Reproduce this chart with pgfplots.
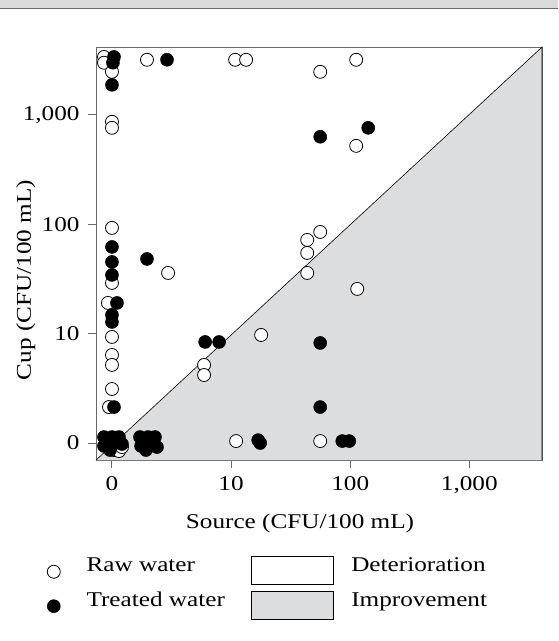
\documentclass[border=0pt]{standalone}
\usepackage{fontspec}
\setmainfont{Liberation Serif}[FakeStretch=1.2]
\usepackage{pgfplots}
\pgfplotsset{compat=1.18}
\definecolor{impgray}{RGB}{220,221,223}
\definecolor{hdrgray}{RGB}{218,219,221}
\definecolor{axgray}{RGB}{105,105,105}
\begin{document}
\begin{tikzpicture}[x=1pt,y=1pt,font=\fontsize{21pt}{25pt}\selectfont]
\path[use as bounding box] (0,0) rectangle (558,641);
\fill[hdrgray] (0,632.7) rectangle (558,641);
\draw[axgray,line width=1pt] (0,632.2) -- (558,632.2);
\begin{axis}[
  at={(94,181)}, anchor=origin,
  width=446pt, height=413pt, scale only axis,
  xmin=-0.134, xmax=3.61, ymin=-0.156, ymax=3.62,
  axis line style={draw=axgray,line width=1pt},
  tick style={draw=axgray,line width=1pt},
  tick pos=left, tick align=outside, major tick length=8pt,
  xtick={0,1,2,3}, ytick={0,1,2,3},
  xticklabels={0,10,100,{1,000}}, yticklabels={0,10,100,{1,000}},
  xticklabel style={yshift=-5pt},
  yticklabel style={xshift=-5pt},
  /pgf/number format/assume math mode=true,
  clip=false,
  legend columns=2,
  legend cell align=left,
  legend style={draw=none, fill=none, at={(axis description cs:-0.118,-0.227)}, anchor=north west,
    /tikz/every even column/.append style={column sep=24pt},
    row sep=5pt},
]
\fill[impgray] (rel axis cs:0,0) -- (rel axis cs:1,0) -- (rel axis cs:1,1) -- cycle;
\draw[black,line width=0.6pt] (rel axis cs:0,0) -- (rel axis cs:1,1) -- (rel axis cs:1,0);
% Raw water (open)
\addplot[only marks, mark=*, mark size=6.5pt, mark options={fill=white,draw=black,line width=0.8pt}, forget plot] coordinates {
(-0.067,3.53) (-0.067,3.477) (0,3.394) (0.294,3.504) (1.034,3.504) (1.126,3.504)
(2.050,3.504) (1.748,3.394) (0,2.937) (0,2.882) (2.050,2.717) (0,1.967)
(0.471,1.555) (1.748,1.930) (1.639,1.857) (1.639,1.738) (1.639,1.555) (2.059,1.409)
(0,1.464) (-0.034,1.281) (0,0.970) (0,0.805) (0,0.714) (0,0.494) (-0.025,0.329)
(1.252,0.988) (0.773,0.714) (0.773,0.622) (1.042,0.018) (1.748,0.018)
(0.017,-0.064) (0.059,-0.073) (0.084,-0.037)
};
% Treated water (filled)
\addplot[only marks, mark=*, mark size=6.5pt, mark options={fill=black,draw=black,line width=0.5pt}, forget plot] coordinates {
(0.017,3.53) (0.008,3.477) (0,3.275) (0.462,3.504) (1.748,2.800) (2.151,2.882)
(0,1.793) (0,1.656) (0,1.537) (0.294,1.683) (0.042,1.281) (0,1.171) (0,1.107)
(0.782,0.924) (0.899,0.924) (1.748,0.915) (1.748,0.329) (0.017,0.329)
(-0.067,0.055) (-0.067,-0.027) (0,0.055) (0.059,0.055) (0.084,-0.009) (-0.017,-0.064) (0.025,0)
(0.235,0.055) (0.244,-0.027) (0.303,0.055) (0.319,-0.018) (0.361,0.055) (0.378,-0.037) (0.286,-0.064)
(1.227,0.027) (1.244,0) (1.933,0.018) (1.992,0.018)
};
\addlegendimage{legend image code/.code={\draw[black,fill=white,line width=0.8pt] plot[mark=*,mark size=6.5pt,only marks] coordinates {(7.2pt,-6pt)}; \path[draw=none] (0pt,0pt) -- (38pt,0pt);}}
\addlegendentry{Raw water}
\addlegendimage{legend image code/.code={\draw[black,fill=white,line width=0.8pt] (0pt,-19pt) rectangle (82pt,9pt); \path[draw=none] (0pt,0pt) -- (98pt,0pt);}}
\addlegendentry{Deterioration}
\addlegendimage{legend image code/.code={\draw[black,fill=black,line width=0.5pt] plot[mark=*,mark size=6.5pt,only marks] coordinates {(7.2pt,-6pt)}; \path[draw=none] (0pt,0pt) -- (38pt,0pt);}}
\addlegendentry{Treated water}
\addlegendimage{legend image code/.code={\draw[black,fill=impgray,line width=0.8pt] (0pt,-19pt) rectangle (82pt,9pt); \path[draw=none] (0pt,0pt) -- (98pt,0pt);}}
\addlegendentry{Improvement}
\end{axis}
\node[anchor=base] at (300,112) {Source (CFU/100 mL)};
\node[anchor=base,rotate=90] at (31,361) {Cup (CFU/100 mL)};
\end{tikzpicture}
\end{document}
